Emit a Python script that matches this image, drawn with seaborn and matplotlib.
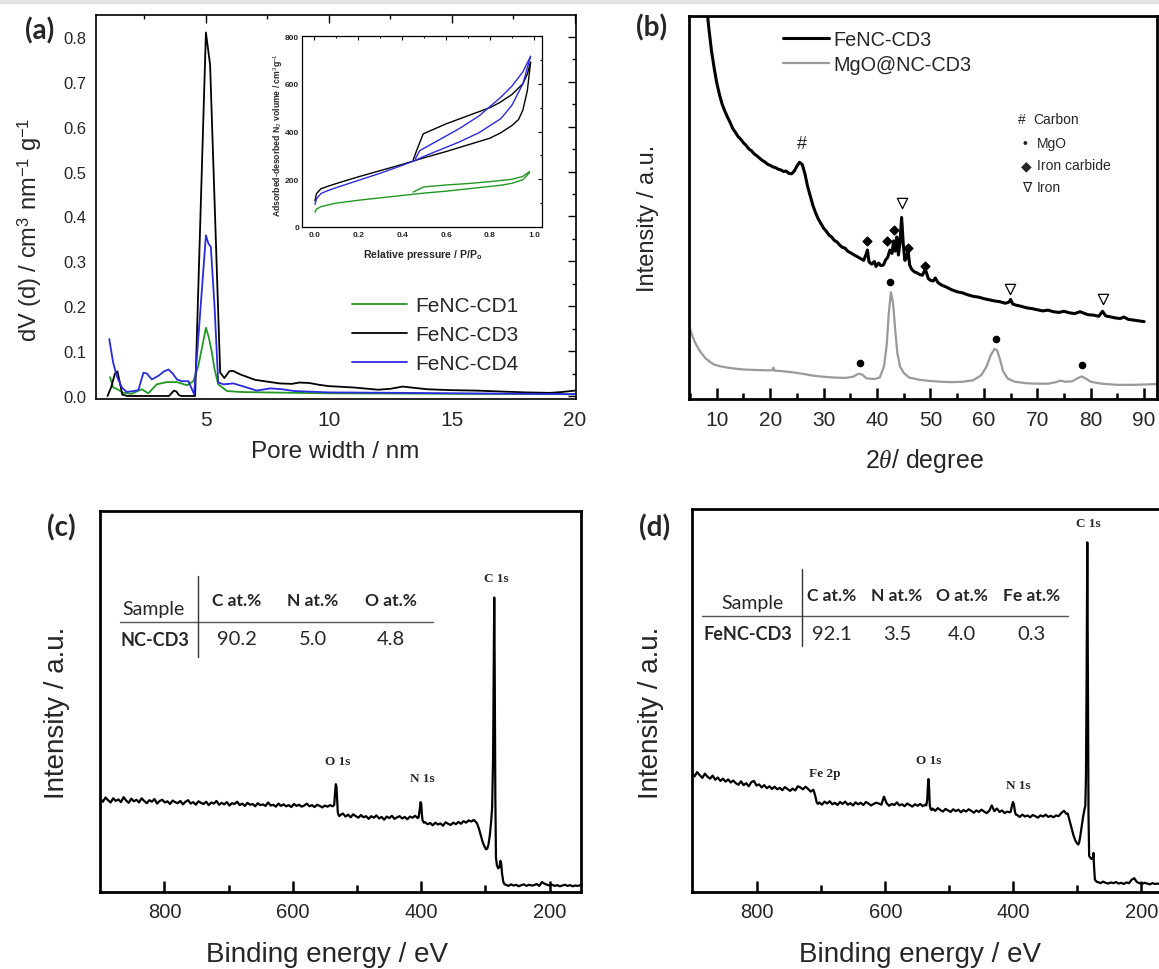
import numpy as np
import matplotlib
matplotlib.use('Agg')
import matplotlib.pyplot as plt
from matplotlib.lines import Line2D
from matplotlib.patches import Rectangle
from matplotlib.ticker import MultipleLocator, FormatStrFormatter
import seaborn as sns

# ---------------- (a) pore size distribution ----------------
cd1_x = [1.1, 1.23, 1.37, 1.64, 1.98, 2.39, 2.66, 3.0, 3.41, 3.82, 4.23, 4.49, 4.69, 4.85, 5.0,
         5.12, 5.24, 5.35, 5.5, 5.86, 6.4, 7.35, 10, 15, 20]
cd1_y = [0.042, 0.019, 0.016, 0.007, 0.005, 0.015, 0.006, 0.026, 0.031, 0.031, 0.024, 0.033, 0.067,
         0.11, 0.152, 0.13, 0.098, 0.06, 0.026, 0.011, 0.009, 0.008, 0.006, 0.005, 0.004]

cd3_x = [1.0, 1.15, 1.3, 1.4, 1.5, 1.6, 1.8, 2.5, 3.5, 3.6, 3.7, 3.8, 3.9, 4.0, 4.56, 5.0, 5.17,
         5.58, 5.75, 5.95, 6.1, 6.4, 7.0, 7.5, 8.0, 8.5, 8.8, 9.2, 9.6, 10, 11, 12, 12.5, 13, 13.5,
         14, 15, 16, 17, 18, 19, 19.5, 20]
cd3_y = [0.0, 0.02, 0.05, 0.055, 0.03, 0.003, 0.0, 0.0, 0.0, 0.006, 0.012, 0.01, 0.002, 0.0, 0.0,
         0.81, 0.738, 0.052, 0.04, 0.055, 0.056, 0.048, 0.036, 0.032, 0.028, 0.027, 0.030, 0.029,
         0.025, 0.022, 0.019, 0.014, 0.016, 0.021, 0.018, 0.015, 0.013, 0.012, 0.010, 0.008, 0.007,
         0.009, 0.012]

cd4_x = [1.07, 1.15, 1.23, 1.37, 1.58, 1.78, 2.05, 2.25, 2.46, 2.6, 2.8, 3.07, 3.3, 3.48, 3.65,
         3.82, 4.02, 4.29, 4.52, 5.0, 5.1, 5.2, 5.35, 5.5, 5.72, 6.12, 6.66, 7.07, 7.62, 8.1, 8.6,
         10, 13, 15, 18, 20]
cd4_y = [0.127, 0.1, 0.074, 0.045, 0.019, 0.009, 0.011, 0.013, 0.052, 0.05, 0.037, 0.045, 0.055,
         0.059, 0.05, 0.037, 0.033, 0.033, 0.004, 0.358, 0.34, 0.332, 0.2, 0.03, 0.026, 0.028,
         0.019, 0.012, 0.017, 0.015, 0.011, 0.008, 0.007, 0.006, 0.005, 0.004]

# inset: N2 isotherms (adsorption / desorption branches)
iso_cd1_ads_p = [0.003, 0.01, 0.03, 0.06, 0.1, 0.2, 0.3, 0.4, 0.5, 0.6, 0.7, 0.8, 0.85, 0.9, 0.95, 0.98]
iso_cd1_ads_v = [62, 75, 85, 92, 100, 112, 122, 132, 142, 150, 160, 170, 175, 183, 198, 228]
iso_cd1_des_p = [0.98, 0.95, 0.9, 0.85, 0.8, 0.7, 0.6, 0.5, 0.48, 0.45]
iso_cd1_des_v = [232, 212, 200, 195, 190, 182, 176, 168, 160, 146]

iso_cd3_ads_p = [0.003, 0.01, 0.03, 0.06, 0.1, 0.2, 0.3, 0.4, 0.45, 0.5, 0.6, 0.7, 0.8, 0.85, 0.9,
                 0.93, 0.95, 0.97, 0.985]
iso_cd3_ads_v = [110, 140, 160, 170, 182, 210, 236, 262, 276, 290, 316, 344, 372, 395, 425, 450,
                 490, 570, 690]
iso_cd3_des_p = [0.985, 0.97, 0.95, 0.9, 0.846, 0.8, 0.7, 0.6, 0.496, 0.47, 0.45]
iso_cd3_des_v = [690, 640, 600, 555, 522, 500, 466, 432, 390, 330, 280]

iso_cd4_ads_p = [0.003, 0.01, 0.03, 0.06, 0.1, 0.2, 0.3, 0.4, 0.46, 0.51, 0.66, 0.75, 0.85, 0.9,
                 0.95, 0.985]
iso_cd4_ads_v = [95, 118, 140, 152, 165, 195, 225, 258, 279, 300, 356, 395, 454, 510, 600, 715]
iso_cd4_des_p = [0.985, 0.95, 0.9, 0.85, 0.75, 0.66, 0.51, 0.48, 0.46]
iso_cd4_des_v = [715, 650, 590, 544, 465, 412, 335, 320, 285]

# ---------------- (b) XRD (intensity in % of panel height) ----------------
fenc_tt = [8.0, 8.5, 9.0, 9.5, 10.0, 10.5, 11.0, 11.5, 12.0, 12.5, 13.0, 13.5, 14.0, 14.5, 15.0,
           15.5, 16.0, 16.5, 17.0, 17.5, 18.0, 18.5, 19.0, 19.5, 20.0, 20.5, 21.0, 21.5, 22.0,
           22.5, 23.0, 23.5, 24.0, 24.5, 25.0, 25.5, 26.0, 26.5, 27.0, 27.5, 28.0, 28.5, 29.0,
           29.5, 30.0, 30.5, 31.0, 31.5, 32.0, 32.5, 33.0, 33.5, 34.0, 34.5, 35.0, 35.5, 36.0,
           36.5, 37.0, 37.5, 37.9, 38.2, 38.5, 39.0, 39.5, 39.8, 40.3, 40.7, 41.2, 41.6, 42.0,
           42.4, 42.8, 43.1, 43.4, 43.7, 44.0, 44.3, 44.6, 44.9, 45.2, 45.5, 45.8, 46.1, 46.5,
           47.0, 47.5, 48.0, 48.5, 48.9, 49.2, 49.6, 50.0, 50.5, 50.9, 51.4, 52.0, 53.0, 54.0,
           55.0, 56.0, 57.0, 58.0, 59.0, 60.0, 61.0, 62.0, 63.0, 64.0, 64.7, 65.0, 65.4, 66.0,
           67.0, 68.0, 69.0, 70.0, 71.0, 72.0, 73.0, 74.0, 75.0, 76.0, 77.0, 78.0, 78.7, 79.5,
           80.5, 81.5, 82.2, 82.8, 83.5, 84.5, 85.5, 86.2, 87.0, 88.0, 89.0, 90.0]
fenc_int = [104, 97, 91, 86.5, 82.5, 79.5, 77, 75.2, 73.6, 72.2, 70.6, 69.6, 68.5, 67.8, 66.9,
            66.2, 65.3, 64.8, 64.0, 63.5, 62.9, 62.3, 61.9, 61.3, 61.0, 60.6, 60.4, 60.0, 59.8,
            59.4, 59.5, 58.9, 58.8, 59.5, 60.8, 61.8, 61.2, 58.8, 55.5, 53.0, 50.5, 48.6, 47.0,
            45.8, 44.6, 43.8, 42.8, 42.3, 41.4, 41.0, 40.2, 39.6, 39.4, 38.6, 38.2, 37.8, 37.4,
            37.0, 36.6, 36.2, 37.6, 38.9, 35.8, 35.2, 35.9, 34.6, 35.5, 34.8, 35.0, 36.3, 37.0,
            38.9, 38.0, 41.3, 38.6, 42.3, 37.6, 41.0, 47.4, 40.5, 36.2, 36.8, 38.8, 35.0, 33.8,
            33.2, 32.9, 32.5, 32.3, 33.6, 33.2, 31.4, 31.0, 30.8, 31.6, 30.4, 29.8, 29.2, 28.5,
            28.0, 27.7, 27.2, 26.8, 26.6, 26.2, 25.9, 25.6, 25.4, 25.0, 25.3, 26.0, 24.8, 24.5,
            24.2, 23.8, 23.6, 23.3, 23.0, 23.2, 22.8, 22.6, 22.9, 22.5, 22.3, 22.8, 22.4, 22.0,
            21.9, 21.6, 22.9, 21.7, 21.5, 21.2, 21.0, 21.4, 20.8, 20.6, 20.4, 20.2]

mgo_tt = [5.0, 5.5, 6.0, 6.5, 7.0, 7.5, 8.0, 8.8, 9.5, 10.5, 11.5, 13.0, 15.0, 17.0, 19.0, 20.4,
          20.6, 20.8, 22.0, 24.0, 26.0, 28.0, 30.0, 32.0, 34.0, 35.5, 36.5, 37.2, 38.0, 39.5, 40.5,
          41.3, 41.8, 42.2, 42.6, 43.0, 43.4, 43.8, 44.3, 45.0, 46.0, 48.0, 50.0, 52.0, 54.0, 56.0,
          58.0, 59.5, 60.5, 61.3, 62.0, 62.5, 63.0, 63.6, 64.5, 65.8, 68.0, 70.0, 72.0, 73.5, 74.3,
          75.2, 76.5, 77.5, 78.3, 79.0, 80.0, 82.0, 85.0, 88.0, 92.5]
mgo_int = [18.3, 16.2, 14.6, 13.3, 12.2, 11.3, 10.5, 9.6, 9.0, 8.6, 8.3, 8.0, 7.7, 7.6, 7.5, 7.5,
           8.2, 7.4, 7.3, 7.0, 6.6, 6.1, 5.8, 5.6, 5.5, 5.8, 6.6, 6.4, 5.4, 5.2, 5.6, 8.5, 14.0,
           22.5, 27.9, 25.0, 18.0, 12.0, 8.5, 6.8, 5.6, 5.0, 4.7, 4.5, 4.4, 4.5, 4.9, 6.2, 8.5,
           11.5, 13.1, 12.6, 10.4, 7.2, 5.3, 4.5, 4.1, 4.0, 4.0, 4.4, 4.8, 4.5, 4.6, 5.4, 5.9, 5.4,
           4.5, 4.0, 3.7, 3.7, 3.9]

# phase markers
carbon_tt, carbon_h = [25.9], [66.6]
mgo_mark_tt = [36.8, 42.5, 62.2, 78.4]
mgo_mark_h = [9.4, 30.6, 15.7, 8.9]
fec_mark_tt = [38.2, 41.9, 43.1, 45.7, 48.9]
fec_mark_h = [41.2, 41.2, 44.2, 39.3, 34.6]
fe_mark_tt = [44.6, 64.9, 82.3]
fe_mark_h = [51.2, 28.7, 26.1]

# ---------------- (c) XPS survey NC-CD3 ----------------
c_seg1 = [24.4, 23.7, 24.8, 24.1, 23.5, 24.6, 23.9, 24.3, 23.6, 24.9, 24.0, 23.4, 24.5, 23.8, 24.2,
          23.5, 24.6, 23.9, 23.3, 24.1, 23.7, 24.4, 23.2, 23.9, 24.2, 23.5, 23.8, 23.1, 24.0, 23.6,
          23.3, 23.9, 23.0, 23.7, 24.1, 23.2, 23.6, 22.9, 23.8, 23.4, 23.1, 23.7, 22.8, 23.5, 23.2,
          23.9, 22.9, 23.4, 23.0, 23.6, 22.7, 23.3, 23.1, 23.7, 22.8, 23.2, 22.6, 23.4, 22.9, 23.1,
          22.5, 23.3, 22.8, 23.0, 22.6, 23.5, 22.7, 22.9, 22.4, 23.2, 22.6, 23.0, 22.5, 22.8, 22.3,
          23.1, 22.6, 22.9, 22.4, 22.7, 23.2, 22.5, 22.8, 22.3, 22.9, 22.6, 22.2, 22.7, 22.4, 22.8,
          22.5]
c_o1s_x = [537, 535.5, 534.5, 533, 532, 531, 530, 529, 527.5]
c_o1s_y = [22.6, 22.9, 25.5, 28.3, 27.6, 24.0, 21.0, 20.3, 19.9]
c_seg2 = [20.2, 20.6, 19.8, 20.3, 19.6, 20.4, 19.9, 19.5, 20.2, 19.6, 19.9, 19.2, 19.9, 19.5, 20.1,
          19.3, 19.7, 19.0, 19.8, 19.4, 20.0, 19.2, 19.6, 19.9, 19.3, 19.7, 19.1, 19.8, 19.5, 20.0,
          19.4]
c_n1s_x = [404, 402.5, 401, 400, 399, 398, 396]
c_n1s_y = [19.6, 21.4, 23.6, 23.2, 20.5, 18.9, 18.2]
c_seg3 = [18.3, 17.8, 18.1, 17.5, 18.2, 17.7, 18.0, 17.4, 18.3, 17.9, 17.6, 18.2, 17.8, 18.4, 17.9,
          18.6, 18.2, 18.8, 18.5, 18.9]
c_c1s_x = [316, 313, 310, 307, 304, 301, 299, 297, 295, 293, 291, 289.5, 288, 287, 286.2, 285.5,
           284.5, 283.5, 282, 280, 278, 276.5, 275.5, 274, 272, 270]
c_c1s_y = [18.6, 18.0, 16.6, 14.8, 13.0, 11.8, 11.2, 11.4, 12.6, 15.0, 18.5, 22.0, 35.0, 60.0, 77.3,
           60.0, 25.0, 9.0, 7.0, 6.2, 6.6, 8.2, 7.6, 4.8, 2.6, 2.0]
c_seg4 = [1.9, 1.6, 2.0, 1.7, 1.9, 1.5, 1.8, 2.0, 1.6, 1.9, 1.7, 1.8, 2.1, 1.6, 2.6, 2.2, 1.9, 1.7,
          1.9, 1.6, 1.8, 1.5, 1.7, 1.9, 1.6, 1.8, 1.5, 1.7, 1.6, 1.8]

c_peak_names = ['C 1s', 'O 1s', 'N 1s']
c_peak_be = [283, 530, 398]
c_peak_h = [80.8, 32.7, 28.3]

# ---------------- (d) XPS survey FeNC-CD3 ----------------
d_seg1 = [31.0, 30.2, 31.3, 30.5, 29.8, 30.9, 30.1, 29.6, 30.4, 29.3, 29.9, 29.0, 29.6, 28.8, 29.4,
          28.6, 29.1, 28.4, 28.0, 28.9, 27.9, 28.4, 27.6, 28.7, 29.0, 27.8, 28.1, 27.3, 27.9, 27.1,
          27.6, 26.9, 27.5, 26.8, 27.2, 26.6, 27.4, 26.9, 26.4, 27.0, 26.5, 27.6, 27.3, 26.8, 27.5,
          26.9, 26.2, 26.7]
d_fe_x = [711, 709, 707, 705]
d_fe_y = [26.0, 24.8, 23.3, 23.0]
d_seg2 = [23.4, 22.8, 23.6, 23.1, 23.7, 22.9, 23.3, 22.7, 23.5, 23.0, 23.6, 22.8, 23.2, 22.6, 23.4,
          22.9, 23.3, 22.7, 23.5, 23.1, 22.6, 23.0, 23.3, 23.1, 22.8, 24.9, 23.2, 22.5, 23.0, 22.7,
          23.4, 22.6, 22.9, 22.4, 23.1, 22.7, 22.3, 22.9, 22.5, 23.0, 22.4, 22.8]
d_o1s_x = [536, 534.5, 533.5, 532.5, 531.5, 530.5, 529, 527.5]
d_o1s_y = [22.6, 24.0, 27.5, 29.5, 27.0, 22.6, 21.6, 21.4]
d_seg3 = [21.8, 21.2, 21.9, 21.4, 21.0, 21.7, 21.3, 20.9, 21.6, 21.1, 21.5, 20.8, 21.4, 21.0, 21.6,
          21.2, 20.7, 21.3, 20.9, 21.5, 21.0, 20.6, 21.2, 22.6, 21.1, 21.8, 20.9, 21.3, 20.6, 21.0,
          20.8]
d_n1s_x = [404, 402, 400.5, 399, 397.5, 396]
d_n1s_y = [21.0, 22.6, 23.5, 22.9, 21.0, 20.2]
d_seg4 = [20.1, 19.6, 20.2, 19.7, 20.0, 19.5, 20.1, 19.8, 19.4, 20.0, 19.7, 20.2, 19.6, 19.9, 19.5,
          20.0, 19.8, 20.6, 21.2, 20.4]
d_c1s_x = [315, 312, 309, 306, 303, 300, 298.5, 297, 295, 293, 291, 289, 287.5, 286.5, 285.5,
           284.4, 283.5, 282.5, 281.5, 279, 277, 275.5, 274.8, 273.8, 272.5, 270]
d_c1s_y = [20.5, 18.6, 16.6, 14.8, 13.4, 12.6, 12.4, 13.0, 15.0, 17.4, 19.6, 21.4, 22.5, 30.0, 55.0,
           91.3, 55.0, 20.0, 9.4, 8.8, 8.6, 9.0, 10.2, 6.5, 3.2, 2.7]
d_seg5 = [2.6, 2.3, 2.7, 2.4, 2.2, 2.5, 2.3, 2.6, 2.2, 2.4, 2.1, 2.5, 2.3, 3.2, 3.6, 2.6, 2.3, 2.1,
          2.4, 2.2, 2.0, 2.3, 2.1, 2.2, 2.0, 2.3, 2.1, 2.2, 2.0, 2.1]

d_peak_names = ['C 1s', 'Fe 2p', 'O 1s', 'N 1s']
d_peak_be = [283, 695, 531.5, 392]
d_peak_h = [94.8, 29.5, 33.0, 26.5]

# composition tables
c_tab_head = ['C at.%', 'N at.%', 'O at.%']
c_tab_vals = ['90.2', '5.0', '4.8']
d_tab_head = ['C at.%', 'N at.%', 'O at.%', 'Fe at.%']
d_tab_vals = ['92.1', '3.5', '4.0', '0.3']

GREEN = '#229922'
BLUE = '#2a2ae0'
GRAY = '#9a9a9a'

# ---------------------------------------------------------------
sns.set_theme(style='white')
plt.rcParams['font.family'] = ['Liberation Sans', 'DejaVu Sans']
plt.rcParams['mathtext.fontset'] = 'custom'
plt.rcParams['mathtext.rm'] = 'Liberation Sans'
plt.rcParams['mathtext.it'] = 'Liberation Serif:italic'
plt.rcParams['mathtext.bf'] = 'Liberation Sans:bold'

W, H = 1159, 970


def box(l, t, r, b):
    return [l / W, 1 - b / H, (r - l) / W, (b - t) / H]


def fpos(x, y):
    return x / W, 1 - y / H


def spectrum(segments):
    xs, ys = [], []
    for x, y in segments:
        xs.append(np.asarray(x, dtype=float))
        ys.append(np.asarray(y, dtype=float))
    return np.concatenate(xs), np.concatenate(ys)


def line(ax, x, y, **kw):
    sns.lineplot(x=x, y=y, ax=ax, sort=False, estimator=None, **kw)


fig = plt.figure(figsize=(W / 100, H / 100), dpi=100)
fig.patches.append(Rectangle((0, 1 - 4 / H), 1, 4 / H, transform=fig.transFigure,
                             color='#e2e2e2', zorder=0))

# ---------- (a) ----------
ax_a = fig.add_axes(box(96, 16, 576, 400))
line(ax_a, cd1_x, cd1_y, color=GREEN, lw=1.3, label='FeNC-CD1')
line(ax_a, cd3_x, cd3_y, color='black', lw=1.3, label='FeNC-CD3')
line(ax_a, cd4_x, cd4_y, color=BLUE, lw=1.3, label='FeNC-CD4')
ax_a.set_xlim(0.53, 20.05)
ax_a.set_ylim(-0.0067, 0.849)
ax_a.set_xticks([5, 10, 15, 20])
ax_a.xaxis.set_minor_locator(MultipleLocator(2.5))
ax_a.yaxis.set_major_locator(MultipleLocator(0.1))
ax_a.yaxis.set_minor_locator(MultipleLocator(0.05))
ax_a.yaxis.set_major_formatter(FormatStrFormatter('%.1f'))
ax_a.tick_params(which='both', direction='in', top=True, right=True, width=1, color='black')
ax_a.tick_params(which='major', length=6)
ax_a.tick_params(which='minor', length=3)
ax_a.tick_params(axis='x', labelsize=15, pad=8)
ax_a.tick_params(axis='y', labelsize=12, pad=7)
for s in ax_a.spines.values():
    s.set_linewidth(1.2)
    s.set_color('black')
ax_a.legend(loc='upper left', bbox_to_anchor=fpos(344, 289), bbox_transform=fig.transFigure,
            frameon=False, fontsize=15, handlelength=2.6, handletextpad=0.4,
            labelspacing=0.48, borderpad=0.4, borderaxespad=0)
fig.text(*fpos(335, 452), 'Pore width / nm', ha='center', va='center', fontsize=17.5)
fig.text(*fpos(30, 230), r'dV (d) / cm$^{3}$ nm$^{-1}$ g$^{-1}$', rotation=90,
         ha='center', va='center', fontsize=17)

ins = fig.add_axes(box(302, 37, 542, 228))
for p, v, c in [(iso_cd1_ads_p, iso_cd1_ads_v, GREEN), (iso_cd1_des_p, iso_cd1_des_v, GREEN),
                (iso_cd3_ads_p, iso_cd3_ads_v, 'black'), (iso_cd3_des_p, iso_cd3_des_v, 'black'),
                (iso_cd4_ads_p, iso_cd4_ads_v, BLUE), (iso_cd4_des_p, iso_cd4_des_v, BLUE)]:
    line(ins, p, v, color=c, lw=1.0)
ins.set_xlim(-0.056, 1.037)
ins.set_ylim(0, 800)
ins.xaxis.set_major_locator(MultipleLocator(0.2))
ins.xaxis.set_minor_locator(MultipleLocator(0.1))
ins.xaxis.set_major_formatter(FormatStrFormatter('%.1f'))
ins.yaxis.set_major_locator(MultipleLocator(200))
ins.yaxis.set_minor_locator(MultipleLocator(100))
ins.tick_params(which='both', direction='in', top=True, right=True, width=0.8, color='black',
                labelsize=6)
ins.tick_params(which='major', length=3)
ins.tick_params(which='minor', length=1.5)
ins.tick_params(axis='x', pad=3)
ins.tick_params(axis='y', pad=2)
for lab in ins.get_xticklabels() + ins.get_yticklabels():
    lab.set_fontweight('bold')
for s in ins.spines.values():
    s.set_linewidth(0.9)
    s.set_color('black')
fig.text(*fpos(423, 255), r'Relative pressure / P/P$_{\mathbf{o}}$', ha='center', va='center',
         fontsize=7.6, fontweight='bold')
fig.text(*fpos(277, 135), r'Adsorbed-desorbed N$_{2}$ volume / cm$^{3}$g$^{-1}$', rotation=90,
         ha='center', va='center', fontsize=6.2, fontweight='bold')

# ---------- (b) ----------
ax_b = fig.add_axes(box(689, 17, 1157, 400))
line(ax_b, fenc_tt, fenc_int, color='black', lw=2.2, label='FeNC-CD3')
line(ax_b, mgo_tt, mgo_int, color=GRAY, lw=1.6, label='MgO@NC-CD3')
ax_b.scatter(mgo_mark_tt, mgo_mark_h, marker='o', s=20, color='black', zorder=5)
ax_b.scatter(fec_mark_tt, fec_mark_h, marker='D', s=20, color='black', zorder=5)
ax_b.scatter(fe_mark_tt, fe_mark_h, marker='v', s=55, facecolors='white', edgecolors='black',
             linewidths=0.9, zorder=5)
for x, y in zip(carbon_tt, carbon_h):
    ax_b.text(x, y, '#', ha='center', va='center', fontsize=13)
ax_b.set_xlim(4.8, 92.4)
ax_b.set_ylim(0, 100)
ax_b.set_xticks(range(10, 100, 10))
ax_b.xaxis.set_minor_locator(MultipleLocator(5))
ax_b.set_yticks([])
ax_b.tick_params(axis='x', which='both', direction='in', bottom=True, top=False, width=1.8,
                 color='black', labelsize=15, pad=8)
ax_b.tick_params(axis='x', which='major', length=8)
ax_b.tick_params(axis='x', which='minor', length=4.5)
for s in ax_b.spines.values():
    s.set_linewidth(2)
    s.set_color('black')
ax_b.legend(loc='upper left', bbox_to_anchor=fpos(775, 23), bbox_transform=fig.transFigure,
            frameon=False, fontsize=14.3, handlelength=2.3, handletextpad=0.25,
            labelspacing=0.32, borderpad=0.4, borderaxespad=0)
fig.text(*fpos(924, 461), r'2$\mathit{\theta}$/ degree', ha='center', va='center', fontsize=18)
fig.text(*fpos(648, 218), 'Intensity / a.u.', rotation=90, ha='center', va='center', fontsize=17)

key_sym = ['#', '•', '◆', '∇']
key_txt = ['Carbon', 'MgO', 'Iron carbide', 'Iron']
key_sx = [1022, 1025, 1026, 1027]
key_tx = [1033, 1037, 1037, 1037]
key_y = [120, 144, 166, 188]
for sym, txt, sx, tx, y in zip(key_sym, key_txt, key_sx, key_tx, key_y):
    fig.text(*fpos(sx, y), sym, ha='center', va='center', fontsize=10,
             family=['Liberation Sans', 'DejaVu Sans'])
    fig.text(*fpos(tx, y), txt, ha='left', va='center', fontsize=10)

# ---------- (c) & (d) ----------
c_be, c_int = spectrum([(np.linspace(900, 538, len(c_seg1)), c_seg1), (c_o1s_x, c_o1s_y),
                        (np.linspace(526, 405.5, len(c_seg2)), c_seg2), (c_n1s_x, c_n1s_y),
                        (np.linspace(394, 318, len(c_seg3)), c_seg3), (c_c1s_x, c_c1s_y),
                        (np.linspace(268, 152, len(c_seg4)), c_seg4)])
d_be, d_int = spectrum([(np.linspace(902, 712.5, len(d_seg1)), d_seg1), (d_fe_x, d_fe_y),
                        (np.linspace(703, 537.5, len(d_seg2)), d_seg2), (d_o1s_x, d_o1s_y),
                        (np.linspace(526, 405.5, len(d_seg3)), d_seg3), (d_n1s_x, d_n1s_y),
                        (np.linspace(394, 317, len(d_seg4)), d_seg4), (d_c1s_x, d_c1s_y),
                        (np.linspace(268, 150, len(d_seg5)), d_seg5)])

ax_c = fig.add_axes(box(100, 512, 581, 893))
ax_d = fig.add_axes(box(692, 510, 1173, 893))
panels = [(ax_c, c_be, c_int, (900.5, 151), c_peak_names, c_peak_be, c_peak_h),
          (ax_d, d_be, d_int, (902, 150.5), d_peak_names, d_peak_be, d_peak_h)]
for ax, be, inten, xl, names, pbe, ph in panels:
    line(ax, be, inten, color='black', lw=1.6)
    ax.set_xlim(*xl)
    ax.set_ylim(0, 100)
    ax.set_xticks([800, 600, 400, 200])
    ax.set_xticks([700, 500, 300], minor=True)
    ax.set_yticks([])
    ax.tick_params(axis='x', which='both', direction='in', bottom=True, top=False, width=1.8,
                   color='black', labelsize=14.5, pad=7)
    ax.tick_params(axis='x', which='major', length=8)
    ax.tick_params(axis='x', which='minor', length=5)
    for s in ax.spines.values():
        s.set_linewidth(2)
        s.set_color('black')
    for n, x, y in zip(names, pbe, ph):
        ax.text(x, y, n, ha='center', va='bottom', fontsize=9.5, fontweight='bold',
                family='Liberation Serif')

fig.text(*fpos(327, 955), 'Binding energy / eV', ha='center', va='center', fontsize=20)
fig.text(*fpos(920, 955), 'Binding energy / eV', ha='center', va='center', fontsize=20)
fig.text(*fpos(57, 713), 'Intensity / a.u.', rotation=90, ha='center', va='center', fontsize=20)
fig.text(*fpos(651, 713), 'Intensity / a.u.', rotation=90, ha='center', va='center', fontsize=20)

# tables
TF = 'Lato'
fig.add_artist(Line2D([120 / W, 433 / W], [1 - 623 / H] * 2, transform=fig.transFigure,
                      color='#555555', lw=1))
fig.add_artist(Line2D([198 / W] * 2, [1 - 577 / H, 1 - 658 / H], transform=fig.transFigure,
                      color='#333333', lw=1))
fig.text(*fpos(153, 609), 'Sample', ha='center', va='center', fontsize=14, family=TF)
fig.text(*fpos(155, 641), 'NC-CD3', ha='center', va='center', fontsize=13, family=TF,
         fontweight='bold')
for x, hd, val in zip([237, 313, 391], c_tab_head, c_tab_vals):
    fig.text(*fpos(x, 601), hd, ha='center', va='center', fontsize=12.5, family=TF,
             fontweight='bold')
    fig.text(*fpos(x, 640), val, ha='center', va='center', fontsize=14.5, family=TF)

fig.add_artist(Line2D([702 / W, 1068 / W], [1 - 617 / H] * 2, transform=fig.transFigure,
                      color='#555555', lw=1))
fig.add_artist(Line2D([802 / W] * 2, [1 - 570 / H, 1 - 647 / H], transform=fig.transFigure,
                      color='#333333', lw=1))
fig.text(*fpos(752, 604), 'Sample', ha='center', va='center', fontsize=14, family=TF)
fig.text(*fpos(748, 634), 'FeNC-CD3', ha='center', va='center', fontsize=13, family=TF,
         fontweight='bold')
for x, hd, val in zip([832, 897, 962, 1032], d_tab_head, d_tab_vals):
    fig.text(*fpos(x, 596), hd, ha='center', va='center', fontsize=12.5, family=TF,
             fontweight='bold')
    fig.text(*fpos(x, 634), val, ha='center', va='center', fontsize=14.5, family=TF)

# panel labels
for lab, x, y in [('(a)', 40, 31), ('(b)', 652, 28), ('(c)', 61, 528), ('(d)', 655, 528)]:
    fig.text(*fpos(x, y), lab, ha='center', va='center', fontsize=20, fontweight='bold',
             family=TF)

fig.savefig('out.png', dpi=100)
